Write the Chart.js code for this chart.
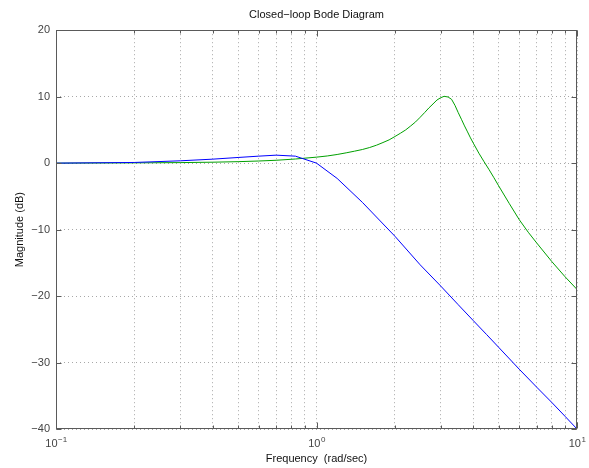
<!DOCTYPE html>
<html><head><meta charset="utf-8">
<script src="https://cdn.jsdelivr.net/npm/chart.js@4/dist/chart.umd.min.js"></script>
<style>html,body{margin:0;padding:0;background:#fff}</style>
</head><body>
<canvas id="c" width="589" height="468" style="width:589px;height:468px;display:block"></canvas>
<script>
const blueFrequencies = [0.1, 0.2, 0.3, 0.4, 0.5, 0.6, 0.7, 0.83, 1.0, 1.2, 1.5, 2.0, 2.5, 3.0, 3.5, 4.0, 4.5, 5.0, 6.0, 7.0, 8.0, 9.0, 10.0];
const blueMagnitude = [0.0, 0.1, 0.35, 0.6, 0.85, 1.05, 1.2, 1.05, 0.0, -2.3, -5.9, -11.0, -15.3, -18.5, -21.3, -23.7, -25.8, -27.7, -31.0, -33.7, -36.0, -38.1, -40.0];
const greenFrequencies = [0.1, 0.2, 0.3, 0.4, 0.5, 0.6, 0.7, 0.83, 1.0, 1.1, 1.2, 1.3, 1.4, 1.5, 1.6, 1.7, 1.8, 1.9, 2.0, 2.1, 2.2, 2.3, 2.4, 2.5, 2.6, 2.7, 2.8, 2.9, 3.0, 3.09, 3.2, 3.3, 3.4, 3.5, 3.6, 3.7, 3.8, 3.9, 4.0, 4.2, 4.4, 4.6, 4.8, 5.0, 5.5, 6.0, 6.5, 7.0, 8.0, 9.0, 10.0];
const greenMagnitude = [0.0, 0.04, 0.08, 0.14, 0.22, 0.32, 0.43, 0.62, 0.9, 1.08, 1.3, 1.55, 1.8, 2.05, 2.35, 2.7, 3.1, 3.5, 4.0, 4.5, 5.0, 5.6, 6.2, 6.9, 7.6, 8.3, 8.9, 9.5, 9.85, 10.05, 9.95, 9.6, 8.7, 7.6, 6.6, 5.6, 4.7, 3.8, 3.0, 1.5, 0.2, -1.0, -2.2, -3.4, -6.1, -8.5, -10.4, -12.0, -14.8, -17.1, -19.0];
const yTicks = [-40, -30, -20, -10, 0, 10, 20];
const xGridTicks = [0.1, 0.2, 0.3, 0.4, 0.5, 0.6, 0.7, 0.8, 0.9, 1, 2, 3, 4, 5, 6, 7, 8, 9, 10];
const xMajorTicks = [0.1, 1, 10];
const xExponents = ['\u22121', '0', '1'];

const FONT = "'Liberation Sans', Arial, Helvetica, sans-serif";
const toPoints = (xs, ys) => xs.map((v, i) => ({x: v, y: ys[i]}));

const matlabAxes = {
  id: 'matlabAxes',
  afterDraw(chart) {
    const {ctx, chartArea: a, scales: {x, y}} = chart;
    ctx.save();
    ctx.strokeStyle = '#5a5a5a';
    ctx.lineWidth = 1;
    const L = Math.round(a.left) + 0.5, R = Math.round(a.right) - 0.5;
    const T = Math.round(a.top) + 0.5, B = Math.round(a.bottom) - 0.5;
    ctx.strokeRect(L, T, R - L, B - T);
    ctx.beginPath();
    xGridTicks.forEach(v => {
      const px = Math.round(x.getPixelForValue(v)) + 0.5;
      const len = xMajorTicks.includes(v) ? 6 : 3;
      ctx.moveTo(px, B); ctx.lineTo(px, B - len);
      ctx.moveTo(px, T); ctx.lineTo(px, T + len);
    });
    yTicks.forEach(v => {
      const py = Math.round(y.getPixelForValue(v)) + 0.5;
      ctx.moveTo(L, py); ctx.lineTo(L + 5, py);
      ctx.moveTo(R, py); ctx.lineTo(R - 5, py);
    });
    ctx.stroke();
    ctx.fillStyle = '#444';
    ctx.textBaseline = 'alphabetic';
    ctx.textAlign = 'left';
    xMajorTicks.forEach((v, i) => {
      const px = x.getPixelForValue(v);
      ctx.font = '11px ' + FONT;
      const w1 = ctx.measureText('10').width;
      ctx.font = '8px ' + FONT;
      const w2 = ctx.measureText(xExponents[i]).width;
      const start = px - (w1 + w2) / 2;
      ctx.font = '11px ' + FONT;
      ctx.fillText('10', start, 447);
      ctx.font = '8px ' + FONT;
      ctx.fillText(xExponents[i], start + w1 + 0.5, 442);
    });
    ctx.restore();
  }
};

new Chart(document.getElementById('c'), {
  type: 'line',
  data: {
    datasets: [
      {data: toPoints(blueFrequencies, blueMagnitude), borderColor: '#0000ff', borderWidth: 1, pointRadius: 0, tension: 0, fill: false},
      {data: toPoints(greenFrequencies, greenMagnitude), borderColor: '#00a000', borderWidth: 1, pointRadius: 0, tension: 0, fill: false}
    ]
  },
  options: {
    responsive: false,
    animation: false,
    devicePixelRatio: 1,
    layout: {padding: {left: 0, right: 12, top: 0, bottom: 0}},
    plugins: {
      legend: {display: false},
      tooltip: {enabled: false},
      title: {
        display: true, text: 'Closed\u2212loop Bode Diagram', fullSize: false,
        font: {family: FONT, size: 11, weight: 'normal'}, color: '#111',
        padding: {top: 8, bottom: 9}
      }
    },
    scales: {
      x: {
        type: 'logarithmic', min: 0.1, max: 10,
        afterBuildTicks: s => { s.ticks = xGridTicks.map(v => ({value: v})); },
        afterFit: s => { s.height = 39; },
        ticks: {display: false},
        grid: {color: '#a8a8a8', lineWidth: 1, drawTicks: false},
        border: {display: false, dash: [1, 3]},
        title: {display: true, text: 'Frequency  (rad/sec)', color: '#111',
          font: {family: FONT, size: 11}, padding: {top: 0, bottom: 2}}
      },
      y: {
        min: -40, max: 20,
        afterBuildTicks: s => { s.ticks = yTicks.map(v => ({value: v})); },
        afterFit: s => { s.width = 56; },
        ticks: {
          callback: v => String(v).replace('-', '\u2212'),
          color: '#444', font: {family: FONT, size: 11}, padding: 6
        },
        grid: {color: '#a8a8a8', lineWidth: 1, drawTicks: false},
        border: {display: false, dash: [1, 3]},
        title: {display: true, text: 'Magnitude (dB)', color: '#111',
          font: {family: FONT, size: 11}, padding: {top: 13, bottom: 0}}
      }
    }
  },
  plugins: [matlabAxes]
});
</script>
</body></html>
